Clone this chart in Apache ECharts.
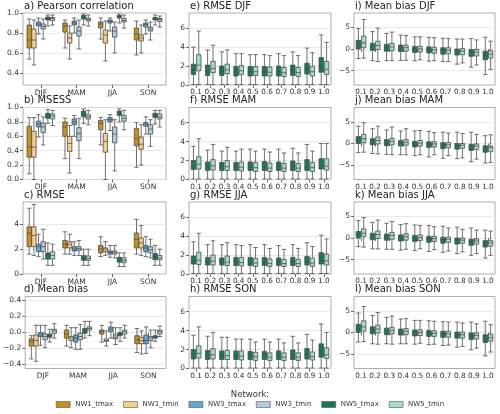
<!DOCTYPE html>
<html>
<head>
<meta charset="utf-8">
<script src="https://cdn.jsdelivr.net/npm/echarts@6/dist/echarts.min.js"></script>
<style>
html,body{margin:0;padding:0;background:#fff;}
#main{width:500px;height:414px;}
</style>
</head>
<body>
<div id="main"></div>
<script>
var seasons = ['DJF', 'MAM', 'JJA', 'SON'];
var levels = ['0.1', '0.2', '0.3', '0.4', '0.5', '0.6', '0.7', '0.8', '0.9', '1.0'];
var networks = ['NW1_tmax', 'NW1_tmin', 'NW3_tmax', 'NW3_tmin', 'NW5_tmax', 'NW5_tmin'];
var colors = ['#c8901f', '#f3cf8d', '#5ea7d6', '#aecbdf', '#15795b', '#a6dcc4'];

// every box: [min, q1, median, q3, max]
// left column: one row per network, one box per season
var pearson = [
  [[0.54,0.65,0.73,0.88,0.94],[0.65,0.81,0.87,0.90,0.93],[0.74,0.85,0.89,0.91,0.95],[0.58,0.73,0.79,0.85,0.92]],
  [[0.48,0.65,0.73,0.84,0.93],[0.54,0.70,0.75,0.80,0.87],[0.52,0.70,0.78,0.83,0.92],[0.60,0.72,0.75,0.78,0.88]],
  [[0.79,0.87,0.89,0.91,0.95],[0.80,0.88,0.90,0.92,0.95],[0.82,0.90,0.915,0.93,0.95],[0.79,0.86,0.885,0.90,0.93]],
  [[0.74,0.84,0.865,0.89,0.94],[0.64,0.77,0.82,0.86,0.93],[0.60,0.76,0.82,0.86,0.91],[0.73,0.82,0.84,0.86,0.91]],
  [[0.87,0.93,0.945,0.96,0.98],[0.88,0.94,0.955,0.975,0.99],[0.90,0.95,0.965,0.975,0.99],[0.88,0.93,0.945,0.955,0.98]],
  [[0.88,0.925,0.945,0.955,0.98],[0.87,0.92,0.935,0.95,0.98],[0.85,0.91,0.925,0.945,0.98],[0.86,0.915,0.935,0.945,0.97]]
];
var msess = [
  [[0.08,0.31,0.45,0.74,0.86],[0.29,0.60,0.73,0.80,0.85],[0.48,0.69,0.78,0.82,0.86],[0.17,0.47,0.57,0.71,0.79]],
  [[0.0,0.31,0.45,0.67,0.86],[0.09,0.39,0.50,0.60,0.75],[0.0,0.38,0.53,0.64,0.83],[0.20,0.42,0.49,0.59,0.76]],
  [[0.59,0.73,0.77,0.81,0.90],[0.60,0.76,0.80,0.84,0.89],[0.68,0.80,0.83,0.86,0.90],[0.63,0.74,0.77,0.79,0.87]],
  [[0.48,0.65,0.73,0.78,0.87],[0.29,0.54,0.64,0.72,0.85],[0.12,0.51,0.63,0.73,0.83],[0.46,0.63,0.70,0.76,0.83]],
  [[0.78,0.85,0.89,0.92,0.97],[0.78,0.87,0.91,0.95,0.98],[0.80,0.89,0.92,0.95,0.98],[0.77,0.86,0.89,0.92,0.96]],
  [[0.75,0.84,0.88,0.91,0.96],[0.76,0.84,0.87,0.90,0.96],[0.69,0.81,0.85,0.89,0.96],[0.73,0.84,0.87,0.91,0.96]]
];
var rmse = [
  [[1.6,2.2,3.3,3.8,5.3],[1.6,2.1,2.4,2.7,3.4],[1.4,1.7,2.0,2.3,3.0],[1.6,2.1,2.8,3.3,4.4]],
  [[1.5,2.2,3.1,3.8,5.6],[1.6,2.1,2.4,2.6,3.2],[1.5,1.8,2.0,2.1,2.6],[1.5,2.1,2.5,2.9,3.9]],
  [[1.4,1.8,2.2,2.4,3.2],[1.5,1.85,2.0,2.2,2.6],[1.35,1.6,1.75,1.85,2.3],[1.4,1.8,2.1,2.3,3.0]],
  [[1.2,1.8,2.2,2.6,3.6],[1.5,1.9,2.05,2.2,2.7],[1.3,1.6,1.75,1.85,2.3],[1.3,1.7,1.95,2.2,2.8]],
  [[0.7,1.2,1.5,1.7,2.5],[0.7,1.1,1.3,1.5,2.0],[0.6,0.95,1.2,1.35,1.7],[0.7,1.15,1.4,1.65,2.3]],
  [[0.7,1.2,1.5,1.8,2.4],[0.7,1.1,1.25,1.45,2.0],[0.6,0.9,1.1,1.3,1.7],[0.7,1.15,1.3,1.5,2.0]]
];
var bias = [
  [[-0.33,-0.17,-0.11,-0.08,-0.04],[-0.17,-0.07,-0.02,0.03,0.09],[-0.12,-0.02,0.01,0.03,0.09],[-0.25,-0.14,-0.09,-0.04,0.05]],
  [[-0.36,-0.17,-0.10,-0.03,0.09],[-0.19,-0.10,-0.07,-0.05,0.06],[-0.17,-0.11,-0.10,-0.08,0.02],[-0.27,-0.14,-0.10,-0.06,0.02]],
  [[-0.16,-0.05,-0.03,0.0,0.09],[-0.21,-0.12,-0.07,-0.03,0.06],[-0.07,0.01,0.04,0.07,0.13],[-0.26,-0.14,-0.10,-0.03,0.07]],
  [[-0.19,-0.09,-0.05,-0.02,0.09],[-0.21,-0.09,-0.05,-0.01,0.10],[-0.15,-0.08,-0.06,-0.03,0.06],[-0.19,-0.10,-0.07,-0.05,0.03]],
  [[-0.12,-0.06,-0.04,-0.02,0.04],[-0.07,-0.01,0.02,0.05,0.14],[-0.11,-0.04,-0.02,0.0,0.06],[-0.11,-0.07,-0.06,-0.04,0.03]],
  [[-0.07,-0.01,0.02,0.04,0.11],[-0.04,0.03,0.05,0.07,0.14],[-0.07,-0.02,0.01,0.03,0.09],[-0.05,-0.02,0.01,0.03,0.08]]
];

// middle and right columns: [NW5_tmax, NW5_tmin], one box per level
var rmseDJF = [
  [[0.05,1.1,1.6,2.2,4.0],[0.05,1.0,1.45,2.1,3.7],[0.05,1.0,1.45,2.0,3.5],[0.05,0.95,1.4,1.95,3.3],[0.05,0.95,1.4,1.95,3.2],[0.05,0.95,1.4,1.95,3.2],[0.05,0.95,1.4,2.0,3.3],[0.05,1.0,1.5,2.1,3.5],[0.05,1.15,1.65,2.3,3.9],[0.05,1.35,1.9,2.9,5.3]],
  [[0.05,1.5,2.1,3.2,5.7],[0.05,1.3,1.75,2.5,4.2],[0.05,1.2,1.6,2.2,3.7],[0.05,1.1,1.5,2.05,3.3],[0.05,1.0,1.4,1.95,3.2],[0.05,0.95,1.35,1.9,3.1],[0.05,0.9,1.3,1.85,3.1],[0.05,0.9,1.3,1.85,3.1],[0.05,0.95,1.4,2.0,3.4],[0.05,1.1,1.65,2.5,4.5]]
];
var rmseMAM = [
  [[0.05,1.05,1.4,2.0,3.5],[0.05,0.95,1.35,1.85,3.1],[0.05,0.95,1.3,1.8,3.0],[0.05,0.95,1.3,1.8,3.0],[0.05,0.95,1.35,1.85,3.2],[0.05,0.95,1.35,1.9,3.2],[0.05,0.95,1.35,1.85,3.2],[0.05,0.95,1.35,1.95,3.3],[0.05,0.95,1.4,2.1,3.7],[0.05,1.1,1.45,2.2,3.8]],
  [[0.05,1.1,1.6,2.4,4.3],[0.05,1.0,1.45,2.1,3.7],[0.05,0.95,1.35,2.0,3.4],[0.05,0.9,1.3,1.85,3.2],[0.05,0.85,1.25,1.8,3.0],[0.05,0.85,1.2,1.75,2.9],[0.05,0.85,1.2,1.7,2.8],[0.05,0.85,1.2,1.7,2.8],[0.05,0.85,1.25,1.8,3.0],[0.05,1.0,1.4,2.2,3.8]]
];
var rmseJJA = [
  [[0.05,1.05,1.35,1.9,3.4],[0.05,0.95,1.3,1.75,3.1],[0.05,0.95,1.3,1.7,3.1],[0.05,0.9,1.25,1.75,3.1],[0.05,0.9,1.25,1.75,3.1],[0.05,0.9,1.25,1.75,3.1],[0.05,0.9,1.25,1.7,3.0],[0.05,0.9,1.25,1.75,3.1],[0.05,0.95,1.3,1.85,3.3],[0.05,1.05,1.45,2.25,4.1]],
  [[0.05,1.0,1.45,2.3,4.3],[0.05,0.95,1.35,2.0,3.5],[0.05,0.9,1.25,1.9,3.3],[0.05,0.85,1.2,1.75,3.0],[0.05,0.8,1.15,1.65,2.8],[0.05,0.8,1.1,1.6,2.7],[0.05,0.8,1.1,1.55,2.6],[0.05,0.8,1.1,1.55,2.7],[0.05,0.8,1.15,1.7,2.9],[0.05,0.95,1.4,2.1,3.7]]
];
var rmseSON = [
  [[0.05,1.0,1.45,2.0,3.5],[0.05,0.95,1.4,1.9,3.4],[0.05,0.95,1.35,1.85,3.3],[0.05,0.95,1.35,1.85,3.1],[0.05,0.95,1.35,1.8,3.1],[0.05,0.95,1.35,1.8,3.1],[0.05,0.95,1.35,1.85,3.1],[0.05,0.95,1.4,1.95,3.4],[0.05,1.0,1.45,2.1,3.6],[0.05,1.2,1.75,2.6,4.7]],
  [[0.05,1.1,1.6,2.4,4.4],[0.05,1.0,1.45,2.1,3.8],[0.05,0.95,1.35,1.9,3.3],[0.05,0.9,1.3,1.85,3.1],[0.05,0.85,1.25,1.7,2.8],[0.05,0.85,1.2,1.65,2.8],[0.05,0.85,1.2,1.65,2.7],[0.05,0.85,1.2,1.65,2.7],[0.05,0.9,1.25,1.75,3.0],[0.05,1.05,1.45,2.2,3.8]]
];
var biasDJF = [
  [[-2.2,0.0,1.0,2.0,4.7],[-2.7,-0.3,0.6,1.3,4.0],[-2.7,-0.5,0.3,1.1,3.6],[-2.6,-0.6,0.3,0.9,3.2],[-2.7,-0.8,0.0,0.6,2.8],[-2.8,-0.9,-0.1,0.5,2.7],[-2.9,-1.2,-0.4,0.3,2.5],[-3.5,-1.4,-0.6,0.0,2.3],[-4.2,-1.7,-0.8,-0.1,2.4],[-5.9,-2.5,-1.5,-0.5,2.7]],
  [[-2.1,0.3,1.4,3.0,6.8],[-2.9,-0.1,0.8,1.8,4.8],[-2.7,-0.4,0.5,1.3,3.9],[-2.6,-0.5,0.3,0.9,3.1],[-2.5,-0.7,0.0,0.6,2.8],[-2.7,-1.0,-0.2,0.4,2.6],[-2.9,-1.1,-0.3,0.3,2.4],[-3.2,-1.3,-0.5,0.1,2.3],[-3.7,-1.6,-0.7,-0.1,2.1],[-4.7,-2.1,-1.2,-0.4,1.8]]
];
var biasMAM = [
  [[-2.1,0.0,0.9,1.6,4.0],[-2.3,-0.3,0.5,1.1,3.4],[-2.5,-0.5,0.2,0.9,3.1],[-2.6,-0.6,0.1,0.7,2.9],[-2.8,-0.8,-0.1,0.5,2.9],[-3.1,-0.9,-0.2,0.4,2.8],[-3.4,-1.2,-0.4,0.2,2.6],[-3.5,-1.3,-0.5,0.0,2.6],[-4.2,-1.6,-0.8,-0.2,2.6],[-4.5,-2.0,-1.1,-0.5,1.8]],
  [[-2.0,0.2,1.1,2.1,4.8],[-2.4,-0.1,0.7,1.5,4.0],[-2.6,-0.3,0.5,1.2,3.8],[-2.6,-0.4,0.3,0.9,3.4],[-2.6,-0.6,0.1,0.7,3.0],[-2.6,-0.8,-0.1,0.4,2.5],[-2.8,-1.0,-0.3,0.2,2.4],[-3.3,-1.1,-0.4,0.0,2.3],[-3.6,-1.4,-0.6,-0.1,2.1],[-4.4,-1.9,-1.0,-0.6,2.0]]
];
var biasJJA = [
  [[-2.0,0.0,0.8,1.5,4.0],[-2.5,-0.4,0.5,1.1,3.6],[-2.6,-0.5,0.3,0.9,3.4],[-2.8,-0.7,0.1,0.7,3.1],[-2.9,-0.8,0.0,0.6,3.0],[-3.1,-1.0,-0.2,0.4,2.9],[-3.3,-1.2,-0.4,0.2,2.7],[-3.6,-1.4,-0.5,0.0,2.5],[-4.0,-1.7,-0.8,-0.3,2.3],[-4.6,-2.1,-1.1,-0.6,1.8]],
  [[-2.1,0.3,1.1,2.1,4.7],[-2.5,-0.1,0.8,1.6,4.1],[-2.6,-0.3,0.6,1.3,3.8],[-2.6,-0.5,0.3,1.0,3.3],[-2.5,-0.6,0.1,0.7,2.9],[-2.7,-0.8,-0.1,0.4,2.6],[-3.0,-1.0,-0.3,0.2,2.3],[-3.2,-1.2,-0.5,0.0,2.0],[-3.6,-1.4,-0.7,-0.2,1.8],[-4.0,-1.9,-1.1,-0.6,1.6]]
];
var biasSON = [
  [[-2.2,0.0,0.9,1.9,4.5],[-2.6,-0.3,0.6,1.3,3.9],[-2.6,-0.5,0.3,1.0,3.5],[-2.6,-0.6,0.2,0.8,3.1],[-2.7,-0.8,0.0,0.6,2.8],[-2.8,-0.9,-0.1,0.5,2.7],[-3.0,-1.1,-0.3,0.3,2.5],[-3.4,-1.3,-0.5,0.1,2.4],[-4.0,-1.6,-0.8,-0.1,2.4],[-5.4,-2.3,-1.4,-0.5,2.6]],
  [[-2.1,0.3,1.3,2.7,6.0],[-2.7,-0.1,0.8,1.7,4.6],[-2.7,-0.3,0.5,1.2,3.8],[-2.6,-0.5,0.3,0.9,3.2],[-2.5,-0.7,0.0,0.6,2.8],[-2.7,-0.9,-0.2,0.4,2.6],[-2.9,-1.1,-0.3,0.3,2.4],[-3.2,-1.3,-0.5,0.1,2.2],[-3.6,-1.5,-0.7,-0.1,2.0],[-4.5,-2.0,-1.2,-0.4,1.8]]
];

var titles = [
  ['a) Pearson correlation', 'b) MSESS', 'c) RMSE', 'd) Mean bias'],
  ['e) RMSE DJF', 'f) RMSE MAM', 'g) RMSE JJA', 'h) RMSE SON'],
  ['i) Mean bias DJF', 'j) Mean bias MAM', 'k) Mean bias JJA', 'l) Mean bias SON']
];
var colData = [
  [pearson, msess, rmse, bias],
  [rmseDJF, rmseMAM, rmseJJA, rmseSON],
  [biasDJF, biasMAM, biasJJA, biasSON]
];
// y scales: [min, max, ticks, decimals]
var yScales = [
  [[0.28, 1.0, [0.4, 0.6, 0.8, 1.0], 1], [0, 1.0, [0, 0.2, 0.4, 0.6, 0.8, 1.0], 1], [0, 5.8, [0, 2, 4], 0], [-0.45, 0.45, [-0.4, -0.2, 0, 0.2, 0.4], 1]],
  [[0, 7.6, [0, 2, 4, 6], 0], [0, 7.6, [0, 2, 4, 6], 0], [0, 7.6, [0, 2, 4, 6], 0], [0, 7.6, [0, 2, 4, 6], 0]],
  [[-8.3, 8.3, [-5, 0, 5], 0], [-8.3, 8.3, [-5, 0, 5], 0], [-8.3, 8.3, [-5, 0, 5], 0], [-8.3, 8.3, [-5, 0, 5], 0]]
];

var colLeft = [23, 189, 354];
var colWidth = [143, 142, 141];
var rowTop = [13, 107.5, 202, 296.5];
var rowHeight = 72;
var font = 'DejaVu Sans';

var grids = [], xAxes = [], yAxes = [], series = [], titleList = [];

function fmt(dec) {
  return function (v) {
    var s = Math.abs(v).toFixed(dec);
    return (v < -1e-9 ? '\u2212' : '') + s;
  };
}

var idx = 0;
for (var c = 0; c < 3; c++) {
  for (var r = 0; r < 4; r++) {
    var ys = yScales[c][r];
    grids.push({
      left: colLeft[c], top: rowTop[r], width: colWidth[c], height: rowHeight,
      show: true, borderColor: '#9a9a9a', borderWidth: 0.8, backgroundColor: '#fff'
    });
    titleList.push({
      text: titles[c][r], left: colLeft[c] + 1, top: rowTop[r] - 12, padding: 0,
      textStyle: {fontFamily: font, fontSize: 10, fontWeight: 'normal', color: '#222'}
    });
    xAxes.push({
      type: 'category', gridIndex: idx, data: c === 0 ? seasons : levels,
      axisLine: {show: false},
      axisTick: {show: true, alignWithLabel: true, length: 3, lineStyle: {color: '#444', width: 0.8}},
      axisLabel: {fontFamily: font, fontSize: c === 0 ? 7.5 : 7.3, color: '#333', margin: 4, interval: 0},
      splitLine: {show: false}
    });
    yAxes.push({
      type: 'value', gridIndex: idx, min: ys[0], max: ys[1],
      axisLine: {show: false},
      axisTick: {show: true, length: 3, customValues: ys[2], lineStyle: {color: '#444', width: 0.8}},
      axisLabel: {fontFamily: font, fontSize: 7.5, color: '#333', margin: 4, customValues: ys[2], formatter: fmt(ys[3])},
      splitLine: {show: true, lineStyle: {color: '#e3e3e3', width: 0.8}}
    });
    var d = colData[c][r];
    for (var k = 0; k < d.length; k++) {
      var ni = c === 0 ? k : 4 + k;
      series.push({
        type: 'boxplot', name: networks[ni], xAxisIndex: idx, yAxisIndex: idx,
        data: d[k], boxWidth: [4.4, 4.4],
        itemStyle: {color: colors[ni], borderColor: '#4d4d4d', borderWidth: 0.8},
        silent: true
      });
    }
    idx++;
  }
}

titleList.push({
  text: 'Network:', left: 'center', top: 390, padding: 0,
  textStyle: {fontFamily: font, fontSize: 8.5, fontWeight: 'normal', color: '#333'}
});

var legendData = [];
for (var i = 0; i < networks.length; i++) {
  legendData.push({name: networks[i], itemStyle: {color: colors[i], borderColor: '#555', borderWidth: 0.6}});
}

var myChart = echarts.init(document.getElementById('main'), null, {renderer: 'canvas'});
myChart.setOption({
  animation: false,
  backgroundColor: '#fff',
  title: titleList,
  legend: {
    data: legendData, left: 'center', top: 401, padding: 0,
    icon: 'rect', itemWidth: 14, itemHeight: 6, itemGap: 10,
    textStyle: {fontFamily: font, fontSize: 7, color: '#333'},
    selectedMode: false
  },
  grid: grids,
  xAxis: xAxes,
  yAxis: yAxes,
  series: series
});
</script>
</body>
</html>
